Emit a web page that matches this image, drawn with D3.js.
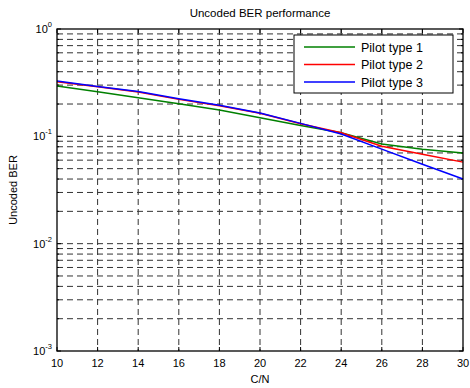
<!DOCTYPE html>
<html>
<head>
<meta charset="utf-8">
<script src="https://cdn.jsdelivr.net/npm/d3@7"></script>
<style>
body { margin: 0; background: #fff; }
text { font-family: Arial, "Liberation Sans", sans-serif; }
</style>
</head>
<body>
<div id="chart"></div>
<script>
const cn = [10, 12, 14, 16, 18, 20, 22, 24, 26, 28, 30];
const pilot1 = [0.294, 0.260, 0.229, 0.201, 0.176, 0.149, 0.126, 0.108, 0.0848, 0.0757, 0.0699];
const pilot2 = [0.323, 0.290, 0.259, 0.221, 0.193, 0.164, 0.131, 0.108, 0.081, 0.068, 0.0575];
const pilot3 = [0.327, 0.292, 0.262, 0.224, 0.195, 0.165, 0.132, 0.105, 0.076, 0.055, 0.040];
const seriesNames = ["Pilot type 1", "Pilot type 2", "Pilot type 3"];
const seriesColors = ["#008000", "#ff0000", "#0000ff"];
const xTicks = [10, 12, 14, 16, 18, 20, 22, 24, 26, 28, 30];
const yDecades = [-3, -2, -1, 0];

const width = 470, height = 388;
const margin = { top: 29, right: 7, bottom: 37, left: 57 };
const w = width - margin.left - margin.right;
const h = height - margin.top - margin.bottom;

const svg = d3.select("#chart").append("svg")
    .attr("width", width)
    .attr("height", height);

const g = svg.append("g")
    .attr("transform", `translate(${margin.left},${margin.top})`);

const x = d3.scaleLinear().domain([10, 30]).range([0, w]);
const y = d3.scaleLog().domain([1e-3, 1]).range([h, 0]);

// grid lines
const minorVals = [];
for (let e = -3; e < 0; e++) {
    for (let m = 1; m <= 9; m++) minorVals.push(m * Math.pow(10, e));
}
minorVals.push(1);

g.append("g").selectAll("line")
    .data(minorVals.filter(v => v > 1e-3 && v < 1))
    .enter().append("line")
    .attr("x1", 0).attr("x2", w)
    .attr("y1", d => y(d)).attr("y2", d => y(d))
    .attr("stroke", "#333")
    .attr("stroke-width", 1)
    .attr("stroke-dasharray", "6,4");

g.append("g").selectAll("line")
    .data(xTicks.filter(v => v > 10 && v < 30))
    .enter().append("line")
    .attr("x1", d => x(d)).attr("x2", d => x(d))
    .attr("y1", 0).attr("y2", h)
    .attr("stroke", "#333")
    .attr("stroke-width", 1)
    .attr("stroke-dasharray", "6,4");

// inner ticks
const tickG = g.append("g").attr("stroke", "#000").attr("stroke-width", 1);
xTicks.forEach(t => {
    tickG.append("line").attr("x1", x(t)).attr("x2", x(t)).attr("y1", h).attr("y2", h - 4);
    tickG.append("line").attr("x1", x(t)).attr("x2", x(t)).attr("y1", 0).attr("y2", 4);
});
minorVals.forEach(v => {
    const len = Number.isInteger(Math.log10(v)) ? 4 : 2;
    tickG.append("line").attr("x1", 0).attr("x2", len).attr("y1", y(v)).attr("y2", y(v));
    tickG.append("line").attr("x1", w).attr("x2", w - len).attr("y1", y(v)).attr("y2", y(v));
});

// lines
const line = d3.line()
    .x((d, i) => x(cn[i]))
    .y(d => y(d));

[pilot1, pilot2, pilot3].forEach((s, i) => {
    g.append("path")
        .datum(s)
        .attr("fill", "none")
        .attr("stroke", seriesColors[i])
        .attr("stroke-width", 1.5)
        .attr("d", line);
});

// frame
g.append("rect")
    .attr("x", 0).attr("y", 0)
    .attr("width", w).attr("height", h)
    .attr("fill", "none")
    .attr("stroke", "#000")
    .attr("stroke-width", 1.3);

// x tick labels
g.append("g").selectAll("text")
    .data(xTicks)
    .enter().append("text")
    .attr("x", d => x(d))
    .attr("y", h + 16)
    .attr("text-anchor", "middle")
    .attr("font-size", 11)
    .text(d => d);

// y tick labels
const yl = g.append("g");
yDecades.forEach(e => {
    const t = yl.append("text")
        .attr("x", -5)
        .attr("y", y(Math.pow(10, e)) + 4)
        .attr("text-anchor", "end")
        .attr("font-size", 11);
    t.append("tspan").text("10");
    t.append("tspan").attr("dy", -6).attr("font-size", 7.5).text(e);
});

// title and axis labels
svg.append("text")
    .attr("x", margin.left + w / 2)
    .attr("y", 17)
    .attr("text-anchor", "middle")
    .attr("font-size", 11.5)
    .text("Uncoded BER performance");

svg.append("text")
    .attr("x", margin.left + w / 2)
    .attr("y", 383)
    .attr("text-anchor", "middle")
    .attr("font-size", 11)
    .text("C/N");

svg.append("text")
    .attr("transform", `translate(17,${margin.top + h / 2}) rotate(-90)`)
    .attr("text-anchor", "middle")
    .attr("font-size", 11)
    .text("Uncoded BER");

// legend
const lg = svg.append("g").attr("transform", "translate(294,35)");
lg.append("rect")
    .attr("width", 159).attr("height", 58)
    .attr("fill", "#fff")
    .attr("stroke", "#000")
    .attr("stroke-width", 1);
seriesNames.forEach((n, i) => {
    const yy = 12 + i * 17.5;
    lg.append("line")
        .attr("x1", 10).attr("x2", 61)
        .attr("y1", yy).attr("y2", yy)
        .attr("stroke", seriesColors[i])
        .attr("stroke-width", 1.5);
    lg.append("text")
        .attr("x", 67).attr("y", yy + 4.5)
        .attr("font-size", 12.5)
        .text(n);
});
</script>
</body>
</html>
